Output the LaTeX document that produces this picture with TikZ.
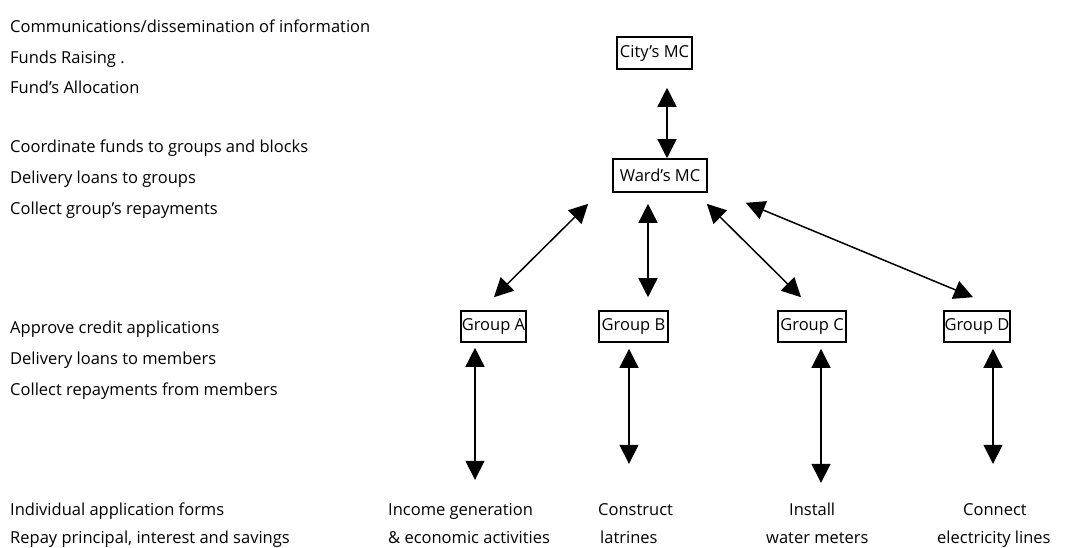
\documentclass[tikz,border=0pt]{standalone}
\usepackage{fontspec}
\setmainfont{Open Sans}
\usetikzlibrary{arrows.meta,calc}
\begin{document}
\begin{tikzpicture}[x=1pt,y=-1pt,
  every node/.style={font=\fontsize{16.5}{20}\selectfont, text=black},
  lbl/.style={anchor=base west, inner sep=0pt},
  box/.style={draw, line width=1.6pt, inner sep=0pt, minimum height=31pt},
  link/.style={line width=1.5pt, {Triangle[length=19pt,width=19pt]}-{Triangle[length=19pt,width=19pt]}}]
\useasboundingbox (0,0) rectangle (1091,547);
% left column texts
\node[lbl] (l1) at (10,32) {Communications/dissemination of information};
\node[lbl] (l2) at (10,63) {Funds Raising .};
\node[lbl] (l3) at (10,93) {Fund's Allocation};
\node[lbl] (l4) at (10,152) {Coordinate funds to groups and blocks};
\node[lbl] (l5) at (10,183) {Delivery loans to groups};
\node[lbl] (l6) at (10,214) {Collect group's repayments};
\node[lbl] (l7) at (10,333) {Approve credit applications};
\node[lbl] (l8) at (10,364) {Delivery loans to members};
\node[lbl] (l9) at (10,395) {Collect repayments from members};
\node[lbl] (l10) at (10,515) {Individual application forms};
\node[lbl] (l11) at (10,543) {Repay principal, interest and savings};
% boxes
\node[box, minimum width=75pt, minimum height=32pt] (city) at (654.5,53) {City's MC};
\node[box, minimum width=94pt, minimum height=33pt] (ward) at (660,175.5) {Ward's MC};
\node[box, minimum width=65pt] (ga) at (493.5,326.5) {Group A};
\node[box, minimum width=69pt] (gb) at (633.5,326.5) {Group B};
\node[box, minimum width=68pt] (gc) at (812,326.5) {Group C};
\node[box, minimum width=66pt] (gd) at (977,326.5) {Group D};
% bottom texts
\node[lbl] (ia) at (388,515) {Income generation};
\node[lbl] (ib) at (388,543) {\& economic activities};
\node[lbl] (ca) at (598,515) {Construct};
\node[lbl] (cb) at (600,543) {latrines};
\node[lbl] (wa) at (789,515) {Install};
\node[lbl] (wb) at (766,543) {water meters};
\node[lbl] (ea) at (963,515) {Connect};
\node[lbl] (eb) at (937,543) {electricity lines};
% connectors
\draw[link] ($(city.south)+(12.5,18)$) -- ($(ward.north)+(7,0)$);
\draw[link] ($(ward.south west)+(-24,11)$) -- ($(ga.north)+(0.5,-13)$);
\draw[link] ($(ward.south)+(-12,11)$) -- ($(gb.north)+(14.5,-13)$);
\draw[link] ($(ward.south east)+(-1,11)$) -- ($(gc.north)+(-11,-13)$);
\draw[link] ($(ward.south east)+(38,10)$) -- ($(gd.north)+(-4,-13)$);
\coordinate (ta) at ($(ga.south)+(-18.5,137)$);
\coordinate (tb) at ($(gb.south)+(-4.5,121)$);
\coordinate (tc) at ($(gc.south)+(9,140)$);
\coordinate (td) at ($(gd.south)+(16,121)$);
\draw[link] ($(ga.south)+(-18.5,5)$) -- (ta);
\draw[link] ($(gb.south)+(-4.5,6)$) -- (tb);
\draw[link] ($(gc.south)+(9,6)$) -- (tc);
\draw[link] ($(gd.south)+(16,6)$) -- (td);
\end{tikzpicture}
\end{document}
